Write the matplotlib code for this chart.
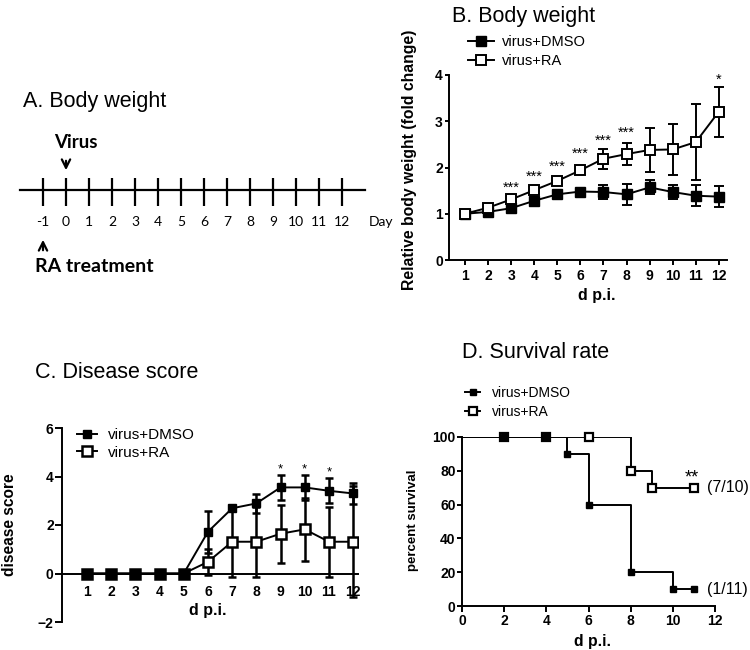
import matplotlib
matplotlib.use('Agg')
import matplotlib.pyplot as plt
from matplotlib.lines import Line2D

plt.rcParams['font.family'] = ['Liberation Sans', 'DejaVu Sans']

# ---------------- data ----------------
timeline_days = list(range(-1, 13))
dpi_days = list(range(1, 13))

bw_dmso = [1.00, 1.04, 1.12, 1.28, 1.42, 1.48, 1.47, 1.42, 1.57, 1.47, 1.39, 1.37]
bw_dmso_err = [0.02, 0.04, 0.05, 0.07, 0.07, 0.05, 0.16, 0.22, 0.15, 0.16, 0.23, 0.22]
bw_ra = [1.00, 1.13, 1.31, 1.51, 1.71, 1.94, 2.19, 2.29, 2.38, 2.39, 2.55, 3.21]
bw_ra_err = [0.02, 0.04, 0.05, 0.05, 0.05, 0.07, 0.22, 0.24, 0.48, 0.56, 0.82, 0.54]
bw_sig_days = [3, 4, 5, 6, 7, 8, 12]
bw_sig_labels = ['***', '***', '***', '***', '***', '***', '*']
bw_sig_y = [1.48, 1.72, 1.93, 2.22, 2.49, 2.67, 3.82]

ds_dmso = [0, 0, 0, 0, 0, 1.72, 2.69, 2.89, 3.55, 3.55, 3.41, 3.30]
ds_dmso_err = [0, 0, 0, 0, 0, 0.87, 0.0, 0.38, 0.53, 0.52, 0.51, 0.42]
ds_ra = [0, 0, 0, 0, 0, 0.48, 1.31, 1.31, 1.64, 1.82, 1.31, 1.31]
ds_ra_err = [0, 0, 0, 0, 0, 0.55, 1.45, 1.45, 1.20, 1.30, 1.45, 2.28]
ds_sig_days = [9, 10, 11]
ds_sig_y = [4.16, 4.16, 4.05]

sv_dmso_t = [0, 5, 6, 8, 10, 11]
sv_dmso_v = [100, 90, 60, 20, 10, 10]
sv_dmso_mark_t = [2, 4, 5, 6, 8, 10, 11]
sv_dmso_mark_v = [100, 100, 90, 60, 20, 10, 10]
sv_ra_t = [0, 8, 9, 11]
sv_ra_v = [100, 80, 70, 70]
sv_ra_mark_t = [2, 4, 6, 8, 9, 11]
sv_ra_mark_v = [100, 100, 100, 80, 70, 70]

labels = ['virus+DMSO', 'virus+RA']

# ---------------- figure ----------------
W, H = 750, 650
fig = plt.figure(figsize=(7.5, 6.5), dpi=100)


def px_axes(l, t, r, b):
    return fig.add_axes([l / W, 1 - b / H, (r - l) / W, (b - t) / H])


def style(ax, lw=1.4):
    for s in ['top', 'right']:
        ax.spines[s].set_visible(False)
    for s in ['left', 'bottom']:
        ax.spines[s].set_linewidth(lw)
    for lab in ax.get_xticklabels() + ax.get_yticklabels():
        lab.set_fontweight('bold')
        lab.set_fontsize(10)


def title(x, y, txt):
    fig.text(x / W, 1 - y / H, txt, fontsize=15.5, va='baseline', ha='left')


# ---------- Panel A ----------
axA = px_axes(0, 40, 380, 290)
axA.set_xlim((0 - 43) / 23 - 1, (380 - 43) / 23 - 1)
axA.set_ylim(290, 40)
axA.axis('off')
axA.plot([timeline_days[0] - 1, timeline_days[-1] + 1], [190, 190], color='black', lw=1.6)
axA.vlines(timeline_days, 178, 206, color='black', lw=1.6)
for d in timeline_days:
    axA.text(d, 222, str(d), ha='center', va='center', fontsize=10, family=['Lato', 'DejaVu Sans'])
axA.text(13.15, 222, 'Day', ha='left', va='center', fontsize=10, family=['Lato', 'DejaVu Sans'])
axA.text(-0.5, 143, 'Virus', ha='left', va='center', fontsize=13.5, fontweight='bold',
         family=['Lato', 'DejaVu Sans'])
axA.annotate('', xy=(0, 173), xytext=(0, 158),
             arrowprops=dict(arrowstyle='->', lw=1.6, color='black', mutation_scale=15))
axA.annotate('', xy=(-1, 237), xytext=(-1, 253),
             arrowprops=dict(arrowstyle='->', lw=1.6, color='black', mutation_scale=15))
axA.text(-1.35, 266, 'RA treatment', ha='left', va='center', fontsize=14, fontweight='bold',
         family=['Lato', 'DejaVu Sans'])
title(23, 107, 'A. Body weight')

# ---------- Panel B ----------
axB = px_axes(449, 75, 727, 260)
axB.errorbar(dpi_days, bw_dmso, yerr=bw_dmso_err, fmt='-s', color='black', mfc='black',
             mec='black', ms=7, lw=1.4, elinewidth=1.4, capsize=3.5, capthick=1.4, zorder=3)
axB.errorbar(dpi_days, bw_ra, yerr=bw_ra_err, fmt='-s', color='black', mfc='white',
             mec='black', mew=1.4, ms=7, lw=1.4, elinewidth=1.4, capsize=3.5, capthick=1.4, zorder=4)
axB.set_xlim(0.31, 12.35)
axB.set_ylim(0, 4)
axB.set_xticks(dpi_days)
axB.set_yticks([0, 1, 2, 3, 4])
axB.tick_params(axis='y', direction='out', length=3, width=1.4, pad=1.5)
axB.tick_params(axis='x', direction='out', length=3.5, width=1.4, pad=3)
for d, s, y in zip(bw_sig_days, bw_sig_labels, bw_sig_y):
    axB.text(d, y, s, ha='center', va='baseline', fontsize=10.5)
style(axB)
axB.set_ylabel('Relative body weight (fold change)', fontsize=11.3, fontweight='bold')
axB.yaxis.set_label_coords((417 - 449) / 278, (260 - 160) / 185)
axB.set_xlabel('d p.i.', fontsize=11.5, fontweight='bold')
axB.xaxis.set_label_coords((597 - 449) / 278, (260 - 288) / 185)
hB = [Line2D([], [], color='black', marker='s', mfc='black', ms=7, lw=1.4),
      Line2D([], [], color='black', marker='s', mfc='white', mew=1.4, ms=7, lw=1.4)]
fig.legend(hB, labels, loc='upper left', bbox_to_anchor=(468 / W, 1 - 35 / H),
           frameon=False, fontsize=10.5, handlelength=1.75, handletextpad=0.6,
           labelspacing=0.37, borderpad=0, borderaxespad=0)
title(452, 22, 'B. Body weight')

# ---------- Panel C ----------
axC = px_axes(62, 428, 358, 622)
axC.errorbar(dpi_days, ds_ra, yerr=ds_ra_err, fmt='-s', color='black', mfc='white',
             mec='black', mew=1.8, ms=6.5, lw=1.4, elinewidth=1.8, capsize=3, capthick=1.8, zorder=3)
axC.errorbar(dpi_days, ds_dmso, yerr=ds_dmso_err, fmt='-s', color='black', mfc='black',
             mec='black', ms=5.5, lw=1.4, elinewidth=1.8, capsize=3, capthick=1.8, zorder=4)
axC.set_xlim(-0.03, 12.2)
axC.set_ylim(-2, 6)
axC.spines['bottom'].set_position(('data', 0))
axC.set_xticks(dpi_days)
axC.set_yticks([-2, 0, 2, 4, 6])
axC.tick_params(axis='y', direction='out', length=5, width=1.4, pad=1)
axC.tick_params(axis='x', direction='out', length=0, width=1.4, pad=8)
for d, y in zip(ds_sig_days, ds_sig_y):
    axC.text(d, y, '*', ha='center', va='baseline', fontsize=9.5)
style(axC)
axC.set_ylabel('disease score', fontsize=11.2, fontweight='bold')
axC.yaxis.set_label_coords((17 - 62) / 296, (622 - 525) / 194)
axC.set_xlabel('d p.i.', fontsize=11.5, fontweight='bold')
axC.xaxis.set_label_coords((208 - 62) / 296, (622 - 603) / 194)
hC = [Line2D([], [], color='black', marker='s', mfc='black', ms=5.5, lw=1.4),
      Line2D([], [], color='black', marker='s', mfc='white', mew=1.8, ms=6.5, lw=1.4)]
fig.legend(hC, labels, loc='upper left', bbox_to_anchor=(77 / W, 1 - 428 / H),
           frameon=False, fontsize=11, handlelength=1.3, handletextpad=0.72,
           labelspacing=0.24, borderpad=0, borderaxespad=0)
title(35, 378, 'C. Disease score')

# ---------- Panel D ----------
axD = px_axes(462, 437, 715, 606)
axD.step(sv_ra_t, sv_ra_v, where='post', color='black', lw=1.4, zorder=2)
axD.step(sv_dmso_t, sv_dmso_v, where='post', color='black', lw=1.4, zorder=2)
axD.plot(sv_ra_mark_t, sv_ra_mark_v, 's', mfc='white', mec='black', mew=1.6, ms=5.5,
         zorder=3, clip_on=False)
axD.plot(sv_dmso_mark_t, sv_dmso_mark_v, 's', mfc='black', mec='black', ms=4.5,
         zorder=4, clip_on=False)
axD.set_xlim(0, 12)
axD.set_ylim(0, 100)
axD.set_xticks([0, 2, 4, 6, 8, 10, 12])
axD.set_yticks([0, 20, 40, 60, 80, 100])
axD.tick_params(axis='y', direction='out', length=3.5, width=1.4, pad=1)
axD.tick_params(axis='x', direction='out', length=4, width=1.4, pad=2)
axD.text(10.9, 73, '**', ha='center', va='baseline', fontsize=13)
axD.text(sv_ra_mark_t[-1] + 0.62, sv_ra_mark_v[-1], '(7/10)', ha='left', va='center',
         fontsize=11.5, clip_on=False)
axD.text(sv_dmso_mark_t[-1] + 0.62, sv_dmso_mark_v[-1], '(1/11)', ha='left', va='center',
         fontsize=11.5, clip_on=False)
style(axD)
axD.set_ylabel('percent survival', fontsize=9.5, fontweight='bold')
axD.yaxis.set_label_coords((419 - 462) / 253, (606 - 520) / 169)
axD.set_xlabel('d p.i.', fontsize=11.3, fontweight='bold')
axD.xaxis.set_label_coords((593 - 462) / 253, (606 - 634) / 169)
hD = [Line2D([], [], color='black', marker='s', mfc='black', ms=4.5, lw=1.4),
      Line2D([], [], color='black', marker='s', mfc='white', mew=1.6, ms=5.5, lw=1.4)]
fig.legend(hD, labels, loc='upper left', bbox_to_anchor=(465 / W, 1 - 386 / H),
           frameon=False, fontsize=10, handlelength=1.1, handletextpad=0.85,
           labelspacing=0.37, borderpad=0, borderaxespad=0)
title(462, 358, 'D. Survival rate')

fig.savefig('out.png', dpi=100)
